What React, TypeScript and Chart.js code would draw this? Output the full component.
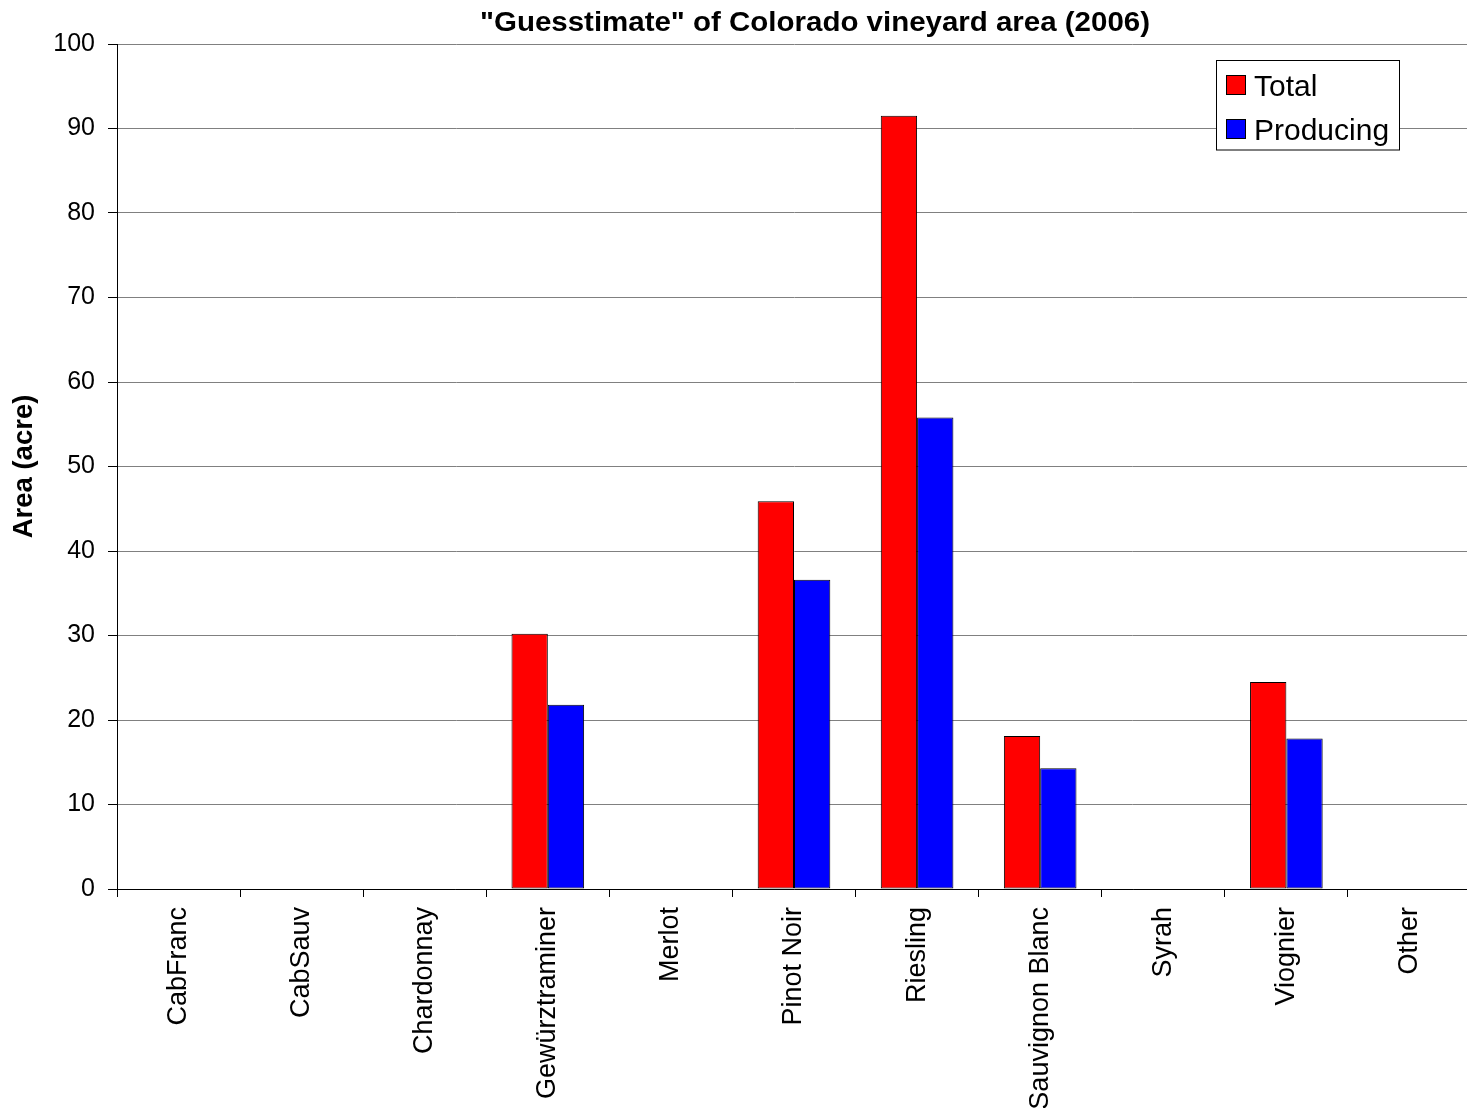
import React, { useEffect, useRef } from "react";
import { Chart, registerables } from "chart.js";

Chart.register(...registerables);

const categories = [
  "CabFranc",
  "CabSauv",
  "Chardonnay",
  "Gewürztraminer",
  "Merlot",
  "Pinot Noir",
  "Riesling",
  "Sauvignon Blanc",
  "Syrah",
  "Viognier",
  "Other",
];
const totalValues = [0, 0, 0, 30.2, 0, 45.9, 91.5, 18.1, 0, 24.5, 0];
const producingValues = [0, 0, 0, 21.8, 0, 36.6, 55.8, 14.3, 0, 17.8, 0];
const seriesNames = ["Total", "Producing"];
const seriesColors = ["#ff0000", "#0000ff"];
const titleText = '"Guesstimate" of Colorado vineyard area (2006)';
const yAxisTitle = "Area (acre)";

const FONT = "'Liberation Sans', Arial, sans-serif";

const decorPlugin = {
  id: "decor",
  afterDraw(chart: any) {
    const ctx = chart.ctx;
    // Title (slightly condensed, as in the reference)
    ctx.save();
    ctx.font = `bold 28px ${FONT}`;
    ctx.fillStyle = "#000";
    ctx.textBaseline = "alphabetic";
    ctx.textAlign = "center";
    const w = ctx.measureText(titleText).width;
    const sx = 670 / w;
    ctx.translate(815, 31);
    ctx.scale(sx, 1);
    ctx.fillText(titleText, 0, 0);
    ctx.restore();

    // Legend box
    ctx.save();
    const bx = 1216.5, by = 60.5, bw = 183, bh = 89.5;
    ctx.fillStyle = "#fff";
    ctx.fillRect(bx, by, bw, bh);
    ctx.strokeStyle = "#000";
    ctx.lineWidth = 1;
    ctx.strokeRect(bx, by, bw, bh);
    ctx.font = `30px ${FONT}`;
    ctx.textBaseline = "alphabetic";
    ctx.textAlign = "left";
    const rows = [
      { sq: 75, base: 96 },
      { sq: 119, base: 140 },
    ];
    chart.data.datasets.forEach((ds: any, i: number) => {
      const r = rows[i];
      ctx.fillStyle = ds.backgroundColor;
      ctx.fillRect(1226, r.sq, 20, 20);
      ctx.strokeStyle = "#000";
      ctx.strokeRect(1226.5, r.sq + 0.5, 19, 19);
      ctx.fillStyle = "#000";
      ctx.fillText(ds.label, 1254, r.base);
    });
    ctx.restore();
  },
};

export default function App() {
  const ref = useRef<HTMLCanvasElement>(null);
  useEffect(() => {
    if (!ref.current) return;
    const chart = new Chart(ref.current, {
      type: "bar",
      data: {
        labels: categories,
        datasets: [
          {
            label: seriesNames[0],
            data: totalValues,
            backgroundColor: seriesColors[0],
            borderColor: "#000",
            borderWidth: 1,
            borderSkipped: false,
            categoryPercentage: 0.59,
            barPercentage: 1.0,
          },
          {
            label: seriesNames[1],
            data: producingValues,
            backgroundColor: seriesColors[1],
            borderColor: "#000",
            borderWidth: 1,
            borderSkipped: false,
            categoryPercentage: 0.59,
            barPercentage: 1.0,
          },
        ],
      },
      options: {
        responsive: false,
        animation: false,
        layout: { padding: { top: 44, right: 0, left: 0, bottom: 0 } },
        plugins: {
          legend: { display: false },
          title: { display: false },
          tooltip: { enabled: false },
        },
        scales: {
          x: {
            offset: true,
            grid: {
              offset: true,
              drawOnChartArea: false,
              drawTicks: true,
              tickLength: 8,
              tickColor: "#000",
              color: "#000",
            },
            border: { display: true, color: "#000", width: 1 },
            ticks: {
              autoSkip: false,
              maxRotation: 90,
              minRotation: 90,
              padding: 10,
              color: "#000",
              font: { family: FONT, size: 27 },
            },
            afterFit(scale: any) {
              scale.height = 219;
            },
          },
          y: {
            min: 0,
            max: 100,
            ticks: {
              stepSize: 10,
              padding: 13,
              color: "#000",
              font: { family: FONT, size: 25 },
            },
            grid: {
              color: "#808080",
              tickColor: "#000",
              tickLength: 9,
              drawTicks: true,
            },
            border: { display: true, color: "#000", width: 1 },
            title: {
              display: true,
              text: yAxisTitle,
              color: "#000",
              font: { family: FONT, size: 27.5, weight: "bold" },
              padding: { top: 8, bottom: 0 },
            },
            afterFit(scale: any) {
              scale.width = 117;
            },
          },
        },
      },
      plugins: [decorPlugin],
    });
    return () => chart.destroy();
  }, []);
  return (
    <div
      style={{
        position: "absolute",
        left: 0,
        top: 0,
        width: 1467,
        height: 1108,
        overflow: "hidden",
        background: "#fff",
      }}
    >
      <canvas ref={ref} width={1471} height={1108} style={{ display: "block" }} />
    </div>
  );
}
